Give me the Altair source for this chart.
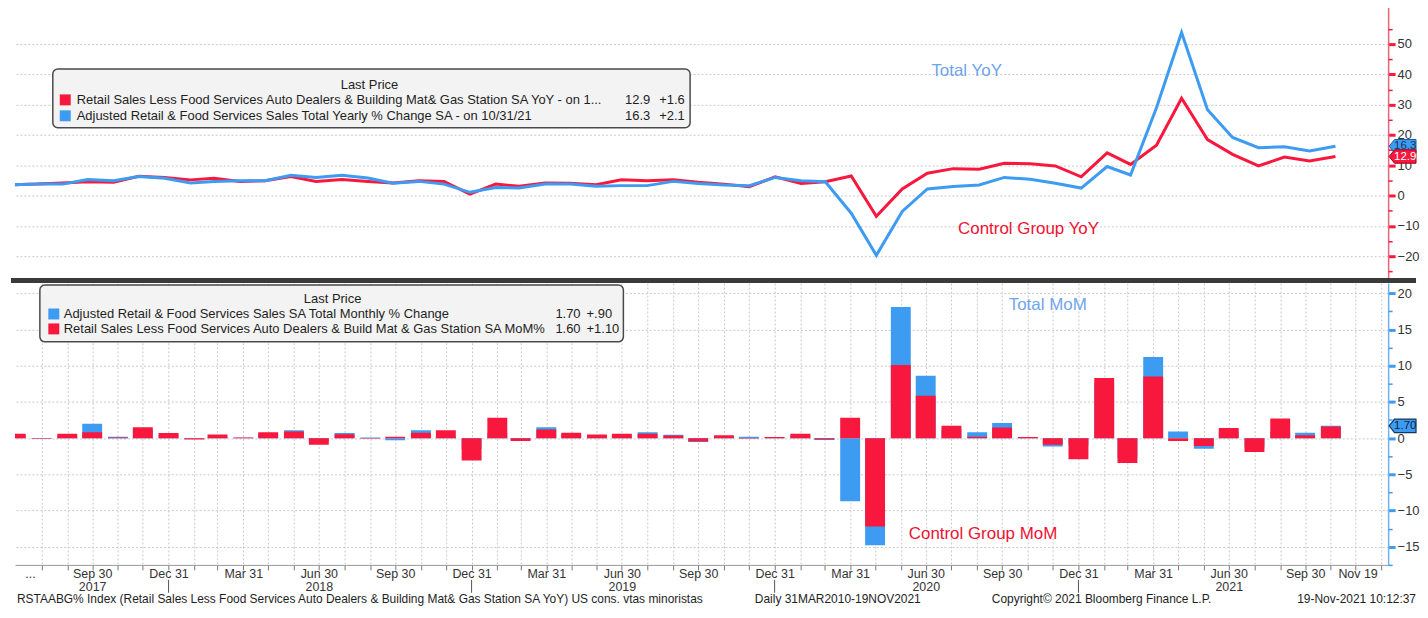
import altair as alt
import pandas as pd

# ---------------- data ----------------
month_starts = pd.date_range("2017-06-01", periods=53, freq="MS")
dates = month_starts + pd.offsets.MonthEnd(0)

# Control group YoY (red) Jun-2017 .. Oct-2021
yoy_control = [3.6, 3.8, 4.2, 4.6, 4.4, 6.4, 6.0,
               5.2, 5.7, 4.7, 4.9, 6.3, 4.7, 5.3, 4.7, 4.2, 4.9, 4.7, 0.5,
               3.8, 3.1, 4.2, 4.1, 3.6, 5.2, 4.9, 5.2, 4.4, 3.8, 2.9, 6.2,
               4.0, 4.6, 6.5, -6.8, 2.2, 7.4, 8.9, 8.7, 10.7, 10.5, 9.8, 6.2,
               14.1, 10.3, 16.6, 32.1, 18.5, 13.6, 9.8, 12.7, 11.4, 12.9]
# Total retail sales YoY (blue)
yoy_total = [3.6, 3.8, 3.8, 5.3, 4.9, 6.3, 5.7,
             4.2, 4.7, 4.9, 4.9, 6.7, 6.0, 6.7, 5.8, 4.1, 4.7, 3.8, 1.1,
             2.7, 2.5, 3.8, 3.8, 3.1, 3.3, 3.3, 4.7, 4.0, 3.5, 3.3, 6.0,
             4.9, 4.6, -5.8, -19.7, -5.2, 2.2, 3.0, 3.5, 6.0, 5.4, 4.1, 2.5,
             9.6, 6.8, 29.0, 53.8, 28.3, 19.2, 15.8, 16.1, 14.7, 16.3]
# Total retail sales MoM (blue bars)
mom_total = [0.2, -0.1, 0.3, 2.0, 0.2, 1.2, 0.5,
             -0.1, 0.2, 0.05, 0.6, 1.1, -0.5, 0.7, 0.1, -0.3, 1.1, 0.3, -1.5,
             0.7, -0.2, 1.5, 0.4, 0.4, 0.4, 0.8, 0.45, -0.55, 0.3, 0.2, 0.1,
             0.5, -0.25, -8.7, -14.8, 18.1, 8.6, 1.2, 0.8, 2.1, 0.05, -1.15, -1.0,
             7.6, -2.7, 11.2, 0.9, -1.45, 0.9, -1.3, 0.9, 0.75, 1.7]
# Control group MoM (red bars)
mom_control = [0.6, -0.1, 0.6, 0.8, 0.1, 1.5, 0.7,
               -0.2, 0.5, 0.1, 0.8, 0.9, -0.9, 0.55, -0.1, 0.2, 0.75, 1.1, -3.1,
               2.8, -0.4, 1.2, 0.75, 0.5, 0.6, 0.6, 0.35, -0.45, 0.4, -0.1, 0.15,
               0.6, -0.2, 2.8, -12.2, 10.1, 5.85, 1.7, 0.2, 1.45, 0.15, -0.9, -2.9,
               8.3, -3.45, 8.5, -0.4, -1.1, 1.4, -1.9, 2.7, 0.4, 1.6]

legend_top_names = ["Retail Sales Less Food Services Auto Dealers & Building Mat& Gas Station SA YoY -  on 1...",
                    "Adjusted Retail & Food Services Sales Total Yearly % Change SA -  on 10/31/21"]
legend_top_last = ["12.9", "16.3"]
legend_top_chg = ["+1.6", "+2.1"]
legend_bot_names = ["Adjusted Retail & Food Services Sales SA Total Monthly % Change",
                    "Retail Sales Less Food Services Auto Dealers & Build Mat & Gas Station SA MoM%"]
legend_bot_last = ["1.70", "1.60"]
legend_bot_chg = ["+.90", "+1.10"]

footer_texts = ["RSTAABG% Index (Retail Sales Less Food Services Auto Dealers & Building Mat& Gas Station SA YoY) US cons. vtas minoristas",
                "Daily 31MAR2010-19NOV2021",
                "Copyright\u00a9 2021 Bloomberg Finance L.P.",
                "19-Nov-2021 10:12:37"]

df = pd.DataFrame({"date": dates, "yoy_control": yoy_control, "yoy_total": yoy_total,
                   "mom_total": mom_total, "mom_control": mom_control})

# ---------------- style ----------------
W = 1379
HT = 275
HB = 283
FONT = "Liberation Sans, Arial, sans-serif"
RED = "#f8183e"
BLUE = "#3d9cf2"
LBLUE_TXT = "#70a4ee"
RED_TXT = "#ee1232"
GRID = "#c9c9c9"
RIGHT = 28  # how far past the plot the right-hand extras go

def dt(ts):
    return alt.DateTime(year=int(ts.year), month=int(ts.month), date=int(ts.day))

xscale = alt.Scale(domain=[alt.DateTime(year=2017, month=7, date=5),
                           alt.DateTime(year=2022, month=1, date=2)])
grid_vals = [dt(d) for d in (pd.date_range("2017-07-01", "2021-12-01", freq="MS") + pd.offsets.MonthEnd(0))]
label_vals = [alt.DateTime(year=2017, month=7, date=17)] + \
             [dt(d) for d in (pd.date_range("2017-09-01", "2021-09-01", freq="3MS") + pd.offsets.MonthEnd(0))] + \
             [alt.DateTime(year=2021, month=11, date=19)]
sep_dates = pd.DataFrame({"date": pd.to_datetime(["2017-12-31", "2018-12-31", "2019-12-31", "2020-12-31"])})

ytop = alt.Scale(domain=[-27.2, 63.1], nice=False)
ybot = alt.Scale(domain=[-17.5, 21.4], nice=False)

one = pd.DataFrame({"a": [0]})

def txt(chart_data, text, x, y, size=13, color="#1e1e1e", align="left", baseline="middle"):
    return alt.Chart(chart_data).mark_text(text=text, font=FONT, fontSize=size, color=color,
                                           align=align, baseline=baseline).encode(
        x=alt.value(x), y=alt.value(y))

tag_path = "M -1 0 L -0.6 -0.5 L 1 -0.5 L 1 0.5 L -0.6 0.5 Z"
TAG_SIZE = 729          # 27 px wide, 13.5 px high
TAG_X = W + 14.5
TAG_TX = W + 6

# ================= TOP PANEL =================
top_x_axis = alt.Axis(values=grid_vals, grid=True, gridColor=GRID, gridDash=[2, 2],
                      labels=False, ticks=False, domain=False, title=None)
ytop_major = alt.Axis(orient="right", values=[-20, -10, 0, 10, 20, 30, 40, 50], grid=True,
                      gridColor=GRID, gridDash=[2, 2], domainColor="#e8647c", domainWidth=1.5,
                      tickColor=RED, tickSize=7, tickWidth=3, labelColor="#333", labelFontSize=13,
                      labelFont=FONT, labelPadding=2, title=None)
ytop_minor = alt.Axis(orient="right", values=[-25, -15, -5, 5, 15, 25, 35, 45, 55], grid=False,
                      labels=False, domain=False, tickColor=RED, tickSize=4, tickWidth=1.5, title=None)

red_line = alt.Chart(df).mark_line(color=RED, strokeWidth=3, clip=True).encode(
    x=alt.X("date:T", scale=xscale, axis=top_x_axis),
    y=alt.Y("yoy_control:Q", scale=ytop, axis=ytop_major))
blue_line = alt.Chart(df).mark_line(color=BLUE, strokeWidth=3, clip=True).encode(
    x=alt.X("date:T", scale=xscale, axis=None),
    y=alt.Y("yoy_total:Q", scale=ytop, axis=ytop_minor))

ann_top_blue = alt.Chart(pd.DataFrame({"date": [pd.Timestamp("2020-08-16")], "v": [41.1], "t": ["Total YoY"]})).mark_text(
    font=FONT, fontSize=17, color=LBLUE_TXT).encode(
    x=alt.X("date:T", scale=xscale, axis=None), y=alt.Y("v:Q", scale=ytop, axis=None), text="t:N")
ann_top_red = alt.Chart(pd.DataFrame({"date": [pd.Timestamp("2020-10-29")], "v": [-11.1], "t": ["Control Group YoY"]})).mark_text(
    font=FONT, fontSize=17, color=RED_TXT).encode(
    x=alt.X("date:T", scale=xscale, axis=None), y=alt.Y("v:Q", scale=ytop, axis=None), text="t:N")

last_top = pd.DataFrame({"v": [yoy_total[-1], yoy_control[-1]],
                         "t": [f"{yoy_total[-1]:.1f}", f"{yoy_control[-1]:.1f}"]})
tag_blue_top = alt.Chart(last_top.iloc[[0]]).mark_point(shape=tag_path, size=TAG_SIZE, filled=True,
                                                        fill=BLUE, stroke="#1d5fa0", strokeWidth=1, opacity=1).encode(
    x=alt.value(TAG_X), y=alt.Y("v:Q", scale=ytop, axis=None))
tag_blue_top_t = alt.Chart(last_top.iloc[[0]]).mark_text(font=FONT, fontSize=11.5, color="#16365e", align="left").encode(
    x=alt.value(TAG_TX), y=alt.Y("v:Q", scale=ytop, axis=None), text="t:N")
tag_red_top = alt.Chart(last_top.iloc[[1]]).mark_point(shape=tag_path, size=TAG_SIZE, filled=True,
                                                       fill=RED, stroke="#a00020", strokeWidth=1, opacity=1).encode(
    x=alt.value(TAG_X), y=alt.Y("v:Q", scale=ytop, axis=None))
tag_red_top_t = alt.Chart(last_top.iloc[[1]]).mark_text(font=FONT, fontSize=11.5, color="white", align="left").encode(
    x=alt.value(TAG_TX), y=alt.Y("v:Q", scale=ytop, axis=None), text="t:N")

leg_top_box = alt.Chart(one).mark_rect(fill="#f3f3f3", stroke="#4a4a4a", strokeWidth=1.5, cornerRadius=5).encode(
    x=alt.value(38), x2=alt.value(678), y=alt.value(65), y2=alt.value(124))
leg_top_sq1 = alt.Chart(one).mark_square(size=121, color=RED, opacity=1).encode(x=alt.value(50.5), y=alt.value(96))
leg_top_sq2 = alt.Chart(one).mark_square(size=121, color=BLUE, opacity=1).encode(x=alt.value(50.5), y=alt.value(112))

top_layers = [red_line, blue_line, ann_top_blue, ann_top_red,
              leg_top_box, leg_top_sq1, leg_top_sq2,
              txt(one, "Last Price", 356, 81, align="center"),
              txt(one, legend_top_names[0], 62, 96), txt(one, legend_top_names[1], 62, 112),
              txt(one, legend_top_last[0], 638, 96, align="right"), txt(one, legend_top_last[1], 638, 112, align="right"),
              txt(one, legend_top_chg[0], 647, 96), txt(one, legend_top_chg[1], 647, 112),
              tag_blue_top, tag_blue_top_t, tag_red_top, tag_red_top_t,
              alt.Chart(one).mark_rule(color="#3a3a3a", strokeWidth=5).encode(
                  x=alt.value(-4), x2=alt.value(W + RIGHT), y=alt.value(HT + 2.5))]
top = alt.layer(*top_layers).resolve_axis(y="independent").properties(width=W, height=HT)

# ================= BOTTOM PANEL =================
x_month_axis = alt.Axis(values=grid_vals, grid=True, gridColor=GRID, gridDash=[2, 2], labels=False,
                        ticks=True, tickSize=5, tickColor="#777", domain=True, domainColor="#999",
                        orient="bottom", title=None)
label_expr = ("(month(datum.value)==5 || (year(datum.value)==2017 && month(datum.value)==8)) ? "
              "[timeFormat(datum.value, '%b %d'), timeFormat(datum.value, '%Y')] : "
              "((year(datum.value)==2017 && month(datum.value)==6) ? '...' : timeFormat(datum.value, '%b %d'))")
x_label_axis = alt.Axis(values=label_vals, grid=False, ticks=False, domain=False, labelExpr=label_expr,
                        labelFont=FONT, labelFontSize=12.5, labelColor="#333", labelPadding=3,
                        labelLineHeight=13, labelOverlap=False, labelFlush=False, labelBound=False,
                        labelOffset={"condition": {"test": "year(datum.value)==2021 && month(datum.value)==10",
                                                   "value": 11}, "value": 0},
                        orient="bottom", title=None)
ybot_major = alt.Axis(orient="right", values=[-15, -10, -5, 0, 5, 10, 15, 20], grid=True,
                      gridColor=GRID, gridDash=[2, 2], domainColor="#6fb0f0", domainWidth=1.5,
                      tickColor=BLUE, tickSize=7, tickWidth=3, labelColor="#333", labelFontSize=13,
                      labelFont=FONT, labelPadding=2, title=None)
ybot_minor = alt.Axis(orient="right", values=[-17.5, -12.5, -7.5, -2.5, 2.5, 7.5, 12.5, 17.5], grid=False,
                      labels=False, domain=False, tickColor=BLUE, tickSize=4, tickWidth=1.5, title=None)

blue_bars = alt.Chart(df).mark_bar(size=20, color=BLUE, clip=True).encode(
    x=alt.X("date:T", scale=xscale, axis=x_month_axis),
    y=alt.Y("mom_total:Q", scale=ybot, axis=ybot_major), y2=alt.datum(0))
red_bars = alt.Chart(df).mark_bar(size=20, color=RED, clip=True).encode(
    x=alt.X("date:T", scale=xscale, axis=x_label_axis),
    y=alt.Y("mom_control:Q", scale=ybot, axis=ybot_minor), y2=alt.datum(0))

sep_rules = alt.Chart(sep_dates).mark_rule(color="#555", strokeWidth=1).encode(
    x=alt.X("date:T", scale=xscale, axis=None), y=alt.value(HB + 15), y2=alt.value(HB + 28))

ann_bot_blue = alt.Chart(pd.DataFrame({"date": [pd.Timestamp("2020-11-24")], "v": [18.35], "t": ["Total MoM"]})).mark_text(
    font=FONT, fontSize=17, color=LBLUE_TXT).encode(
    x=alt.X("date:T", scale=xscale, axis=None), y=alt.Y("v:Q", scale=ybot, axis=None), text="t:N")
ann_bot_red = alt.Chart(pd.DataFrame({"date": [pd.Timestamp("2020-09-07")], "v": [-13.2], "t": ["Control Group MoM"]})).mark_text(
    font=FONT, fontSize=17, color=RED_TXT).encode(
    x=alt.X("date:T", scale=xscale, axis=None), y=alt.Y("v:Q", scale=ybot, axis=None), text="t:N")

last_bot = pd.DataFrame({"v": [mom_total[-1]], "t": [f"{mom_total[-1]:.2f}"]})
tag_bot = alt.Chart(last_bot).mark_point(shape=tag_path, size=TAG_SIZE, filled=True, fill=BLUE,
                                         stroke="#12385f", strokeWidth=1.2, opacity=1).encode(
    x=alt.value(TAG_X), y=alt.Y("v:Q", scale=ybot, axis=None))
tag_bot_t = alt.Chart(last_bot).mark_text(font=FONT, fontSize=11.5, color="#10233d", align="left").encode(
    x=alt.value(TAG_TX), y=alt.Y("v:Q", scale=ybot, axis=None), text="t:N")

leg_bot_box = alt.Chart(one).mark_rect(fill="#f3f3f3", stroke="#4a4a4a", strokeWidth=1.5, cornerRadius=5).encode(
    x=alt.value(25), x2=alt.value(611), y=alt.value(2), y2=alt.value(59))
leg_bot_sq1 = alt.Chart(one).mark_square(size=121, color=BLUE, opacity=1).encode(x=alt.value(39), y=alt.value(31))
leg_bot_sq2 = alt.Chart(one).mark_square(size=121, color=RED, opacity=1).encode(x=alt.value(39), y=alt.value(46))

FOOT_Y = HB + 34
bot_layers = [blue_bars, red_bars, sep_rules, ann_bot_blue, ann_bot_red,
              leg_bot_box, leg_bot_sq1, leg_bot_sq2,
              txt(one, "Last Price", 319, 16, align="center"),
              txt(one, legend_bot_names[0], 49, 31), txt(one, legend_bot_names[1], 49, 46),
              txt(one, legend_bot_last[0], 568, 31, align="right"), txt(one, legend_bot_last[1], 568, 46, align="right"),
              txt(one, legend_bot_chg[0], 574, 31), txt(one, legend_bot_chg[1], 574, 46),
              tag_bot, tag_bot_t,
              txt(one, footer_texts[0], 2, FOOT_Y, size=12),
              txt(one, footer_texts[1], 743, FOOT_Y, size=12),
              txt(one, footer_texts[2], 981, FOOT_Y, size=12),
              txt(one, footer_texts[3], W + RIGHT, FOOT_Y, size=12, align="right")]
bottom = alt.layer(*bot_layers).resolve_axis(y="independent", x="independent").properties(width=W, height=HB)

chart = alt.vconcat(top, bottom, spacing=5, bounds="flush").properties(
    padding={"left": 0, "top": -5, "right": 0, "bottom": 0}
).configure(font=FONT, background="white").configure_view(strokeWidth=0)

chart.save("out.html", embed_options={"renderer": "svg", "actions": False})
